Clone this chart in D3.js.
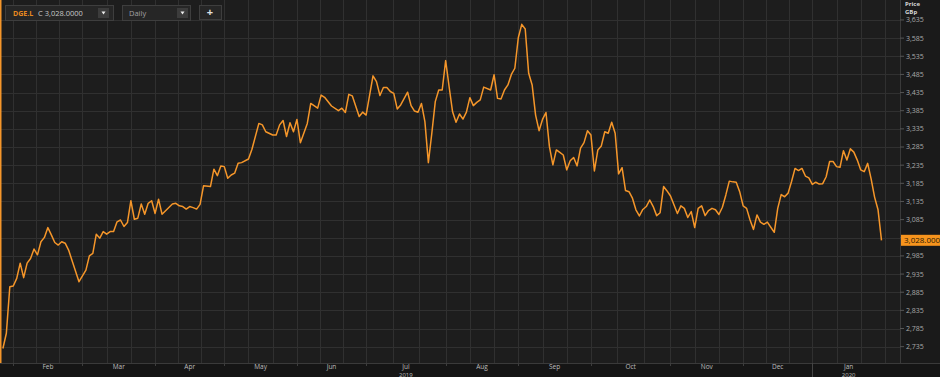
<!DOCTYPE html>
<html>
<head>
<meta charset="utf-8">
<script src="https://cdn.jsdelivr.net/npm/d3@7"></script>
<style>
  body { margin: 0; background: #000; }
  svg { display: block; font-family: "Open Sans", "Noto Sans", sans-serif; }
</style>
</head>
<body>
<div id="chart"></div>
<script>
// trading session number (0 = 29 Jan 2019) and close price in GBp
const sessions = [0,1,2,3,4,5,6,7,8,9,10,11,12,13,14,15,16,17,18,19,22,24,25,26,27,28,29,30,31,32,33,34,35,36,37,38,39,40,41,42,43,44,45,46,49,50,51,52,53,54,55,56,57,58,60,61,62,63,64,65,66,67,68,69,71,72,74,75,76,78,79,80,81,82,83,84,85,86,88,89,91,92,93,95,97,98,99,100,101,103,104,105,107,108,109,110,111,112,113,114,115,117,118,119,120,121,122,123,124,125,126,127,128,129,130,131,132,133,134,135,136,137,138,139,141,142,143,144,145,146,147,148,149,150,151,152,153,154,155,156,157,158,159,160,161,162,163,164,165,166,167,168,169,170,171,172,173,174,175,176,177,178,179,180,181,182,183,184,185,186,187,188,189,190,191,192,193,195,196,197,198,199,200,201,202,203,204,205,206,207,208,209,210,211,212,213,214,215,216,217,218,219,220,221,222,223,224,225,226,227,228,229,230,231,232,233,234,235,236,237,238,239,240,241,242,243,244,245,246,247,248,249,250,251,252,253,254];
const closes = [2730,2772,2900,2902,2923,2965,2925,2965,2978,3004,2988,3024,3036,3063,3043,3022,3015,3024,3020,3001,2914,2946,2985,2992,3045,3034,3052,3045,3052,3052,3079,3084,3066,3077,3137,3086,3089,3128,3100,3130,3137,3102,3141,3100,3128,3130,3123,3121,3114,3121,3118,3114,3127,3178,3176,3224,3206,3233,3231,3199,3208,3213,3240,3242,3252,3279,3350,3346,3327,3318,3318,3346,3358,3314,3352,3327,3361,3297,3350,3405,3392,3428,3422,3398,3385,3392,3380,3430,3426,3369,3381,3373,3481,3465,3427,3449,3449,3438,3433,3390,3401,3436,3399,3384,3381,3405,3355,3242,3323,3410,3442,3442,3523,3451,3382,3353,3376,3362,3381,3421,3399,3408,3415,3450,3442,3484,3419,3417,3442,3456,3485,3502,3586,3623,3610,3488,3456,3373,3330,3361,3380,3286,3236,3277,3270,3263,3222,3247,3256,3233,3282,3297,3330,3318,3219,3277,3288,3327,3323,3353,3323,3211,3228,3165,3162,3144,3112,3095,3113,3121,3139,3121,3096,3104,3176,3164,3150,3102,3123,3116,3091,3107,3063,3116,3123,3096,3110,3116,3112,3099,3119,3153,3191,3189,3188,3162,3123,3116,3084,3058,3098,3078,3072,3078,3064,3050,3116,3154,3148,3158,3190,3226,3220,3226,3205,3200,3182,3188,3183,3184,3203,3245,3245,3231,3229,3275,3249,3280,3271,3249,3222,3217,3240,3197,3147,3112,3028];

const priceTicks = [2735,2785,2835,2885,2935,2985,3035,3085,3135,3185,3235,3285,3335,3385,3435,3485,3535,3585,3635];
const holidays = ["2019-04-19","2019-04-22","2019-05-06","2019-05-27","2019-08-26","2019-12-25","2019-12-26","2020-01-01"];
const monthNames = ["Jan","Feb","Mar","Apr","May","Jun","Jul","Aug","Sep","Oct","Nov","Dec"];
const lastLabel = "3,028.000";

const W = 940, H = 377;
const plotRight = 900, plotBottom = 363;
const orange = "#f5962a";

const svg = d3.select("#chart").append("svg").attr("width", W).attr("height", H);

svg.append("rect").attr("width", W).attr("height", H).attr("fill", "#1d1d1d");
svg.append("rect").attr("x", plotRight).attr("width", W - plotRight).attr("height", plotBottom).attr("fill", "#1a1a1a");
svg.append("rect").attr("y", plotBottom).attr("width", W).attr("height", H - plotBottom).attr("fill", "#151515");

// trading calendar
const fmt = d3.timeFormat("%Y-%m-%d");
const days = d3.timeDay.range(new Date(2019, 0, 29), new Date(2020, 1, 1))
    .filter(d => d.getDay() % 6 !== 0 && !holidays.includes(fmt(d)));

const lastIdx = d3.max(sessions);
const x = d3.scaleLinear().domain([0, lastIdx]).range([2.9, 881.5]);
const y = d3.scaleLinear().domain([2690, 3690]).range([plotBottom, 0]);

// month segments (first session of each month)
const starts = [];
days.forEach((d, i) => {
    if (i > 0 && d.getMonth() !== days[i - 1].getMonth()) starts.push(i);
});
const bounds = starts.concat([lastIdx + 1]);
const months = d3.range(bounds.length - 1).map(k => ({
    s: bounds[k], e: bounds[k + 1], date: days[bounds[k]]
}));

// grid
const grid = svg.append("g").attr("stroke", "#303030").attr("stroke-width", 1);
priceTicks.forEach(v => {
    grid.append("line").attr("x1", 0).attr("x2", plotRight)
        .attr("y1", Math.round(y(v)) + 0.5).attr("y2", Math.round(y(v)) + 0.5);
});
const vlines = [];
months.forEach(m => {
    for (let k = 0; k < 3; k++) vlines.push(m.s + (m.e - m.s) * k / 3);
});
vlines.push(bounds[bounds.length - 1]);
vlines.forEach(v => {
    grid.append("line").attr("x1", Math.round(x(v)) + 0.5).attr("x2", Math.round(x(v)) + 0.5)
        .attr("y1", 0).attr("y2", plotBottom);
});

// axes frames
svg.append("line").attr("x1", plotRight + 0.5).attr("x2", plotRight + 0.5).attr("y1", 0).attr("y2", plotBottom)
    .attr("stroke", "#3a3a3a");
svg.append("line").attr("x1", 0).attr("x2", W).attr("y1", plotBottom + 0.5).attr("y2", plotBottom + 0.5)
    .attr("stroke", "#3a3a3a");

// left selection edge
svg.append("line").attr("x1", 0.75).attr("x2", 0.75).attr("y1", 0).attr("y2", plotBottom)
    .attr("stroke", orange).attr("stroke-width", 1.5);

// price axis (labels hidden behind the last-price flag are skipped)
const yl = y(closes[closes.length - 1]);
const yAxis = svg.append("g").attr("font-size", 7).attr("fill", "#a9a9a9");
priceTicks.forEach(v => {
    yAxis.append("line").attr("x1", plotRight).attr("x2", plotRight + 4)
        .attr("y1", y(v)).attr("y2", y(v)).attr("stroke", "#555");
    if (Math.abs(y(v) - yl) > 9) {
        yAxis.append("text").attr("x", 906).attr("y", y(v)).attr("dy", "0.35em")
            .text(d3.format(",")(v));
    }
});
svg.append("text").attr("x", 905).attr("y", 6).attr("font-size", 6).attr("font-weight", "bold")
    .attr("fill", "#d8d8d8").text("Price");
svg.append("text").attr("x", 905).attr("y", 13.5).attr("font-size", 6).attr("font-weight", "bold")
    .attr("fill", "#d8d8d8").text("GBp");

// time axis
const xAxis = svg.append("g").attr("fill", "#bdbdbd").attr("text-anchor", "middle");
months.forEach(m => {
    const x0 = Math.round(x(m.s)) + 0.5;
    const newYear = m.date.getMonth() === 0;
    xAxis.append("line").attr("x1", x0).attr("x2", x0).attr("y1", plotBottom).attr("y2", newYear ? H : plotBottom + 3)
        .attr("stroke", newYear ? "#444" : "#3d3d3d");
    const cx = (x(m.s) + x(m.e)) / 2;
    xAxis.append("text").attr("x", cx).attr("y", 369).attr("font-size", 6.5).text(monthNames[m.date.getMonth()]);
    if (m.date.getMonth() === 0 || m.date.getMonth() === 6) {
        xAxis.append("text").attr("x", cx).attr("y", 376.5).attr("font-size", 6).text(m.date.getFullYear());
    }
});

// price line
const line = d3.line().x((d, i) => x(sessions[i])).y(d => y(d));
svg.append("path").datum(closes).attr("d", line).attr("fill", "none")
    .attr("stroke", orange).attr("stroke-width", 1.5).attr("stroke-linejoin", "round");

// last price flag
svg.append("rect").attr("x", plotRight + 1).attr("y", yl - 5.5).attr("width", W - plotRight).attr("height", 11)
    .attr("fill", "#f7941d");
svg.append("text").attr("x", 904).attr("y", yl).attr("dy", "0.35em").attr("font-size", 8)
    .attr("fill", "#2a1a05").text(lastLabel);

// toolbar
const bar = svg.append("g");
function box(x0, w, h, y0) {
    bar.append("rect").attr("x", x0 + 0.5).attr("y", y0 + 0.5).attr("width", w).attr("height", h)
        .attr("fill", "#262626").attr("stroke", "#3e3e3e");
}
function drop(x0) {
    bar.append("rect").attr("x", x0).attr("y", 8).attr("width", 11).attr("height", 10).attr("fill", "#3c3c3c");
    bar.append("path").attr("d", `M${x0 + 3.5},11.5 L${x0 + 7.5},11.5 L${x0 + 5.5},14.5 Z`).attr("fill", "#eee");
}
box(5, 108, 15, 5);
bar.append("text").attr("x", 13).attr("y", 15.5).attr("font-size", 7).attr("font-weight", "bold")
    .attr("fill", "#e8891f").text("DGE.L");
bar.append("text").attr("x", 38).attr("y", 15.5).attr("font-size", 7.5).attr("fill", "#c8c8c8").text("C 3,028.0000");
drop(98);
box(122, 68, 15, 5);
bar.append("text").attr("x", 129).attr("y", 15.5).attr("font-size", 7.5).attr("fill", "#a0a0a0").text("Daily");
drop(177);
box(199, 22, 14, 5);
bar.append("text").attr("x", 210).attr("y", 15.5).attr("text-anchor", "middle").attr("font-size", 11)
    .attr("font-weight", "bold").attr("fill", "#e0e0e0").text("+");
</script>
</body>
</html>
